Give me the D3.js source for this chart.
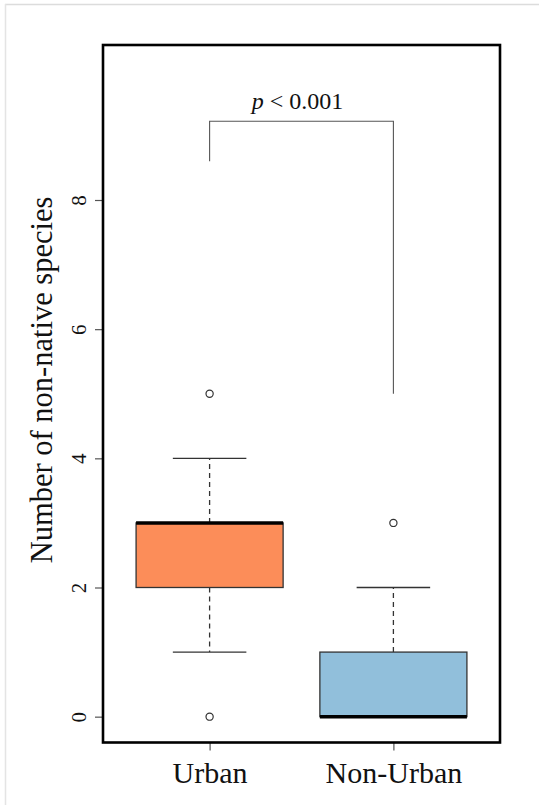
<!DOCTYPE html>
<html>
<head>
<meta charset="utf-8">
<script src="https://cdn.jsdelivr.net/npm/d3@7/dist/d3.min.js"></script>
<style>
  body { margin: 0; background: #fff; }
  svg text { font-family: "Liberation Serif", "Times New Roman", serif; fill: #111; }
</style>
</head>
<body>
<div id="chart"></div>
<script>
    // summary stats
    var groups = ["Urban", "Non-Urban"];
    var q1 = [2, 0];
    var medians = [3, 0];
    var q3 = [3, 1];
    var whiskLow = [1, 0];
    var whiskHigh = [4, 2];
    var outliers = [[0, 5], [3]];
    var colors = ["#fc8d59", "#91bfdb"];
    var yTicks = [0, 2, 4, 6, 8];

    // significance bracket
    var bracketTop = 9.22;
    var bracketLegs = [8.6, 5.0];
    var pLabel = "< 0.001";

    var width = 539, height = 805;
    var margin = { top: 45, right: 39, bottom: 62.5, left: 103 };
    var serif = '"Liberation Serif", "Times New Roman", serif';

    var svg = d3.select("#chart").append("svg")
        .attr("width", width)
        .attr("height", height);

    // faint frame of the original figure
    svg.append("line").attr("x1", 5).attr("x2", width).attr("y1", 4.5).attr("y2", 4.5)
        .attr("stroke", "#dcdcdc").attr("stroke-width", 1.5);
    svg.append("line").attr("x1", 5.5).attr("x2", 5.5).attr("y1", 4).attr("y2", height)
        .attr("stroke", "#e4e4e4").attr("stroke-width", 1.5);

    var x = d3.scalePoint()
        .domain(groups)
        .range([margin.left, width - margin.right])
        .padding(0.58);

    var y = d3.scaleLinear()
        .domain([-0.4, 10.4])
        .range([height - margin.bottom, margin.top]);

    var boxW = x.step() * 0.8;
    var capW = boxW * 0.5;

    var data = groups.map(function(g, i) {
      return { name: g, q1: q1[i], med: medians[i], q3: q3[i],
               lo: whiskLow[i], hi: whiskHigh[i], out: outliers[i], color: colors[i] };
    });

    var box = svg.append("g").selectAll("g")
        .data(data)
        .enter().append("g")
        .attr("transform", function(d) { return "translate(" + x(d.name) + ",0)"; });

    // dashed whiskers
    box.append("line")
        .attr("y1", function(d) { return y(d.q3); })
        .attr("y2", function(d) { return y(d.hi); })
        .attr("stroke", "#333").attr("stroke-width", 1.3)
        .attr("stroke-dasharray", "5,4");
    box.append("line")
        .attr("y1", function(d) { return y(d.q1); })
        .attr("y2", function(d) { return y(d.lo); })
        .attr("stroke", "#333").attr("stroke-width", 1.3)
        .attr("stroke-dasharray", "5,4");

    // staples
    box.selectAll(".cap")
        .data(function(d) { return [d.lo, d.hi].filter(function(v) { return v !== d.q1 && v !== d.q3; }); })
        .enter().append("line")
        .attr("class", "cap")
        .attr("x1", -capW / 2).attr("x2", capW / 2)
        .attr("y1", function(v) { return y(v); })
        .attr("y2", function(v) { return y(v); })
        .attr("stroke", "#333").attr("stroke-width", 1.3);

    box.append("rect")
        .attr("x", -boxW / 2)
        .attr("width", boxW)
        .attr("y", function(d) { return y(d.q3); })
        .attr("height", function(d) { return y(d.q1) - y(d.q3); })
        .attr("fill", function(d) { return d.color; })
        .attr("stroke", "#333").attr("stroke-width", 1.3);

    box.append("line")
        .attr("x1", -boxW / 2).attr("x2", boxW / 2)
        .attr("y1", function(d) { return y(d.med); })
        .attr("y2", function(d) { return y(d.med); })
        .attr("stroke", "#000").attr("stroke-width", 3.5);

    box.selectAll("circle")
        .data(function(d) { return d.out; })
        .enter().append("circle")
        .attr("cy", function(v) { return y(v); })
        .attr("r", 3.6)
        .attr("fill", "none")
        .attr("stroke", "#333").attr("stroke-width", 1.2);

    // bracket
    var bx0 = x(groups[0]), bx1 = x(groups[1]);
    svg.append("path")
        .attr("d", "M" + bx0 + "," + y(bracketLegs[0]) +
                   "V" + y(bracketTop) + "H" + bx1 + "V" + y(bracketLegs[1]))
        .attr("fill", "none")
        .attr("stroke", "#555").attr("stroke-width", 1.1);

    var pt = svg.append("text")
        .attr("x", (bx0 + bx1) / 2 - 4)
        .attr("y", y(bracketTop) - 12)
        .attr("text-anchor", "middle")
        .style("font-family", serif)
        .attr("font-size", 24);
    pt.append("tspan").attr("font-style", "italic").text("p");
    pt.append("tspan").text(" " + pLabel);

    // axes
    var yAxis = svg.append("g")
        .attr("transform", "translate(" + margin.left + ",0)")
        .call(d3.axisLeft(y).tickValues(yTicks).tickSize(8).tickFormat(d3.format("d")));
    yAxis.attr("font-family", null);
    yAxis.select(".domain").remove();
    yAxis.selectAll("line").attr("stroke", "#555").attr("stroke-width", 1.2);
    yAxis.selectAll("text")
        .style("font-family", serif)
        .style("font-size", "21px")
        .attr("fill", "#111")
        .attr("x", 0).attr("dy", 0).attr("y", 0)
        .attr("text-anchor", "middle")
        .attr("transform", "translate(-17,0) rotate(-90)");

    var xAxis = svg.append("g")
        .attr("transform", "translate(0," + (height - margin.bottom) + ")")
        .call(d3.axisBottom(x).tickSize(8));
    xAxis.attr("font-family", null);
    xAxis.select(".domain").remove();
    xAxis.selectAll("line").attr("stroke", "#555").attr("stroke-width", 1.2);
    xAxis.selectAll("text")
        .style("font-family", serif)
        .style("font-size", "30px")
        .attr("fill", "#111")
        .attr("dy", 0)
        .attr("y", 40);

    svg.append("text")
        .attr("transform", "translate(52,380) rotate(-90)")
        .attr("text-anchor", "middle")
        .style("font-family", serif)
        .attr("font-size", 30.5)
        .text("Number of non-native species");

    // plot frame
    svg.append("rect")
        .attr("x", margin.left)
        .attr("y", margin.top)
        .attr("width", width - margin.left - margin.right)
        .attr("height", height - margin.top - margin.bottom)
        .attr("fill", "none")
        .attr("stroke", "#000").attr("stroke-width", 2.6);
</script>
</body>
</html>
